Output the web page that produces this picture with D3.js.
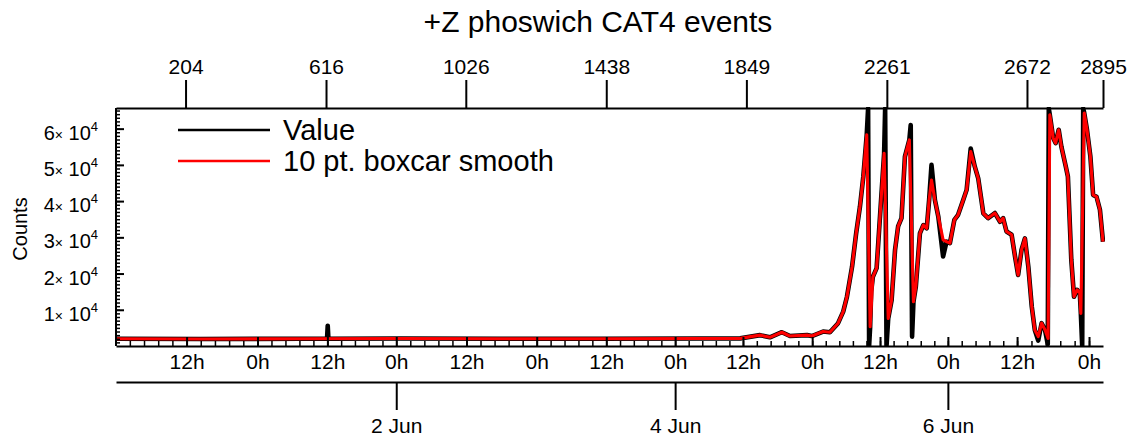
<!DOCTYPE html>
<html><head><meta charset="utf-8">
<script src="https://cdn.jsdelivr.net/npm/d3@7"></script>
<style>body{margin:0;background:#fff}svg{display:block}</style>
</head><body>
<svg id="chart" width="1137" height="440"></svg>
<script>
// ---------- data ----------
const chartTitle = "+Z phoswich CAT4 events";
const yAxisTitle = "Counts";
const legendLabels = ["Value", "10 pt. boxcar smooth"];
const topTickIndex = [204, 616, 1026, 1438, 1849, 2261, 2672, 2895];
const yTickValues = [10000, 20000, 30000, 40000, 50000, 60000];
const yTickMantissa = ["1", "2", "3", "4", "5", "6"];
const dayTickTimes = ["2024-06-02T00:00Z", "2024-06-04T00:00Z", "2024-06-06T00:00Z"];
const dayTickLabels = ["2 Jun", "4 Jun", "6 Jun"];
// time <-> sample index calibration
const timeAnchors = ["2024-05-31T12:00Z","2024-06-01T00:00Z","2024-06-01T12:00Z","2024-06-02T00:00Z",
  "2024-06-02T12:00Z","2024-06-03T00:00Z","2024-06-03T12:00Z","2024-06-04T00:00Z","2024-06-04T12:00Z",
  "2024-06-05T00:00Z","2024-06-05T12:00Z","2024-06-06T00:00Z","2024-06-06T12:00Z","2024-06-07T00:00Z"];
const timeAnchorIndex = [207, 415, 620, 822, 1028, 1234, 1438, 1640, 1839, 2042, 2241, 2440, 2643, 2854];

const valueIndex = [0,248,541,619,621,623,834,1127,1420,1713,1831,1889,1918,1953,1977,2027,2041,2074,2094,2118,
  2133,2144,2159,2171,2182,2192,2202,2206,2209,2212,2215,2220,2231,2239,2246,2253,2256,2260,2265,2275,2285,2294,
  2304,2314,2327,2331,2335,2339,2346,2358,2368,2378,2385,2392,2402,2412,2426,2436,2446,2459,2470,2485,2495,2507,
  2519,2529,2544,2558,2578,2593,2602,2612,2627,2637,2646,2656,2666,2676,2686,2695,2705,2715,2725,2733,2736,2739,
  2749,2756,2765,2773,2786,2792,2802,2810,2819,2827,2830,2834,2837,2840,2848,2858,2866,2876,2886,2895];
const valueCounts = [2000,1950,2000,2000,5600,2000,2050,2000,2000,2050,2100,3000,2400,3800,2750,3000,2750,4000,3800,6300,
  9500,13600,21900,31100,38400,46800,58300,65535,0,5300,15000,19100,21500,33000,43100,53200,65535,0,7600,12700,26500,33000,
  35300,52300,56900,61000,2600,12200,16400,31100,33400,32500,40300,50000,40300,35700,24700,28800,28400,34800,36200,40300,43100,54500,
  49500,46300,36600,35300,36700,34300,35300,31600,30700,24700,19600,26500,29700,21900,10900,4400,1500,6300,4400,500,65535,63800,
  57400,56000,59700,55000,49500,46800,23800,13600,15500,14600,9000,0,65535,64300,59700,52300,41700,41200,37600,28800];

const smoothIndex = [0,248,541,834,1127,1420,1713,1831,1889,1918,1953,1977,2027,2041,2074,2094,2118,2133,2144,2159,
  2171,2182,2192,2202,2212,2220,2231,2239,2246,2253,2265,2275,2285,2294,2304,2314,2327,2339,2346,2358,2368,2378,
  2385,2392,2402,2412,2426,2436,2446,2459,2470,2485,2495,2507,2519,2529,2544,2558,2578,2593,2602,2612,2627,2637,
  2646,2656,2666,2676,2686,2695,2705,2715,2725,2734,2739,2749,2756,2765,2773,2786,2792,2802,2810,2819,2827,2830,
  2840,2848,2858,2866,2876,2886,2895];
const smoothCounts = [2000,1950,2000,2050,2000,2000,2050,2100,3000,2400,3800,2750,3000,2750,4000,3800,6300,9500,13600,21900,
  31100,38400,46800,58300,5300,19100,21500,33000,43100,53200,7600,12700,26500,33000,35300,52300,56900,12200,16400,31100,33400,32500,
  40300,45800,40300,35700,29300,28800,28400,34800,36200,40300,43100,53700,49500,46300,36600,35300,36700,34300,35300,31600,30700,24700,
  19600,26500,29700,21900,10900,4400,2600,6300,4400,2100,63800,57400,56000,59700,55000,49500,46800,23800,13600,15500,14600,9000,
  64300,59700,52300,41700,41200,37600,28800];

// ---------- layout ----------
const FONT = "'Liberation Sans', Arial, Helvetica, sans-serif";
const L = 116, R = 1103, T = 108, B = 346;
const svg = d3.select("#chart").style("font-family", FONT);

const x = d3.scaleLinear().domain([0, 2895]).range([L, R]);
const y = d3.scaleLinear().domain([0, 65700]).range([B, T]);
const tIdx = d3.scaleUtc().domain(timeAnchors.map(s => new Date(s))).range(timeAnchorIndex);

// title
svg.append("text").attr("x", 598).attr("y", 32).attr("text-anchor", "middle")
  .attr("font-size", 30).text(chartTitle);

// clip
svg.append("clipPath").attr("id", "clip").append("rect")
  .attr("x", L).attr("y", T - 1).attr("width", R - L + 2).attr("height", B - T + 2);

const vData = valueIndex.map((d, i) => ({i: d, v: valueCounts[i]}));
const sData = smoothIndex.map((d, i) => ({i: d, v: smoothCounts[i]}));
const line = d3.line().x(d => x(d.i)).y(d => y(d.v));
const g = svg.append("g").attr("clip-path", "url(#clip)");
g.append("path").datum(vData).attr("d", line).attr("fill", "none").attr("stroke", "#000")
  .attr("stroke-width", 4.6).attr("stroke-linejoin", "round");
g.append("path").datum(sData).attr("d", line).attr("fill", "none").attr("stroke", "#ff0000")
  .attr("stroke-width", 3.1).attr("stroke-linejoin", "round");

function styleAxis(sel, fs) {
  sel.selectAll(".domain").attr("stroke", "#000").attr("stroke-width", 2);
  sel.selectAll(".tick line").attr("stroke", "#000").attr("stroke-width", 2);
  sel.selectAll(".tick text").attr("fill", "#000").attr("font-size", fs).attr("font-family", FONT);
}

// top axis (sample index)
const topAx = svg.append("g").attr("transform", `translate(0,${T})`)
  .call(d3.axisTop(x).tickValues(topTickIndex).tickSize(28).tickSizeOuter(0).tickPadding(6).tickFormat(d3.format("d")));
styleAxis(topAx, 21);

// left axis: minor then major
const leftMinor = svg.append("g").attr("transform", `translate(${L},0)`)
  .call(d3.axisLeft(y).tickValues(d3.range(1000, 65001, 1000)).tickSize(-4).tickSizeOuter(0).tickFormat(""));
styleAxis(leftMinor, 20);
leftMinor.selectAll(".tick line").attr("stroke-width", 1.5);
leftMinor.select(".domain").attr("d", `M0,${B}V${T}`);
const leftMajor = svg.append("g").attr("transform", `translate(${L},0)`)
  .call(d3.axisLeft(y).tickValues(yTickValues).tickSize(-8).tickSizeOuter(0).tickFormat(""));
styleAxis(leftMajor, 20);
leftMajor.select(".domain").remove();
yTickValues.forEach((v, k) => {
  const t = svg.append("text").attr("x", 98).attr("y", y(v) + 11).attr("text-anchor", "end")
    .attr("font-size", 20);
  t.append("tspan").text(yTickMantissa[k]);
  t.append("tspan").attr("font-size", 14).text("\u00d7");
  t.append("tspan").text(" 10");
  t.append("tspan").attr("font-size", 13).attr("dy", -9).text("4");
});
svg.append("text").attr("transform", `translate(27,229) rotate(-90)`).attr("text-anchor", "middle")
  .attr("font-size", 20).text(yAxisTitle);

// bottom hour axis
const tStart = new Date("2024-05-31T00:00Z"), tEnd = new Date("2024-06-07T03:00Z");
const inRange = i => i >= 0 && i <= 2895;
const minorIdx = [];
for (let t = +tStart; t <= +tEnd; t += 144 * 60000) minorIdx.push(tIdx(new Date(t)));
const majorTimes = d3.utcHour.every(12).range(tStart, tEnd).filter(t => inRange(tIdx(t)));
const botMinor = svg.append("g").attr("transform", `translate(0,${B})`)
  .call(d3.axisBottom(x).tickValues(minorIdx.filter(inRange)).tickSize(-5).tickSizeOuter(0).tickFormat(""));
styleAxis(botMinor, 20);
botMinor.selectAll(".tick line").attr("stroke-width", 1.5);
const botMajor = svg.append("g").attr("transform", `translate(0,${B})`)
  .call(d3.axisBottom(x).tickValues(majorTimes.map(t => tIdx(t))).tickSize(-9).tickSizeOuter(0).tickPadding(8)
    .tickFormat((d, k) => majorTimes[k].getUTCHours() === 12 ? "12h" : "0h"));
styleAxis(botMajor, 21);
botMajor.select(".domain").remove();

// day axis
const dayAx = svg.append("g").attr("transform", `translate(0,382)`)
  .call(d3.axisBottom(x).tickValues(dayTickTimes.map(s => tIdx(new Date(s)))).tickSize(28).tickSizeOuter(0)
    .tickPadding(8).tickFormat((d, k) => dayTickLabels[k]));
styleAxis(dayAx, 21);

// legend
const legY = [130, 161];
const legC = ["#000", "#ff0000"];
legendLabels.forEach((lab, k) => {
  svg.append("line").attr("x1", 178).attr("x2", 270).attr("y1", legY[k]).attr("y2", legY[k])
    .attr("stroke", legC[k]).attr("stroke-width", 2.5);
  svg.append("text").attr("x", 283).attr("y", legY[k] + 10).attr("font-size", 29).text(lab);
});
</script>
</body></html>
